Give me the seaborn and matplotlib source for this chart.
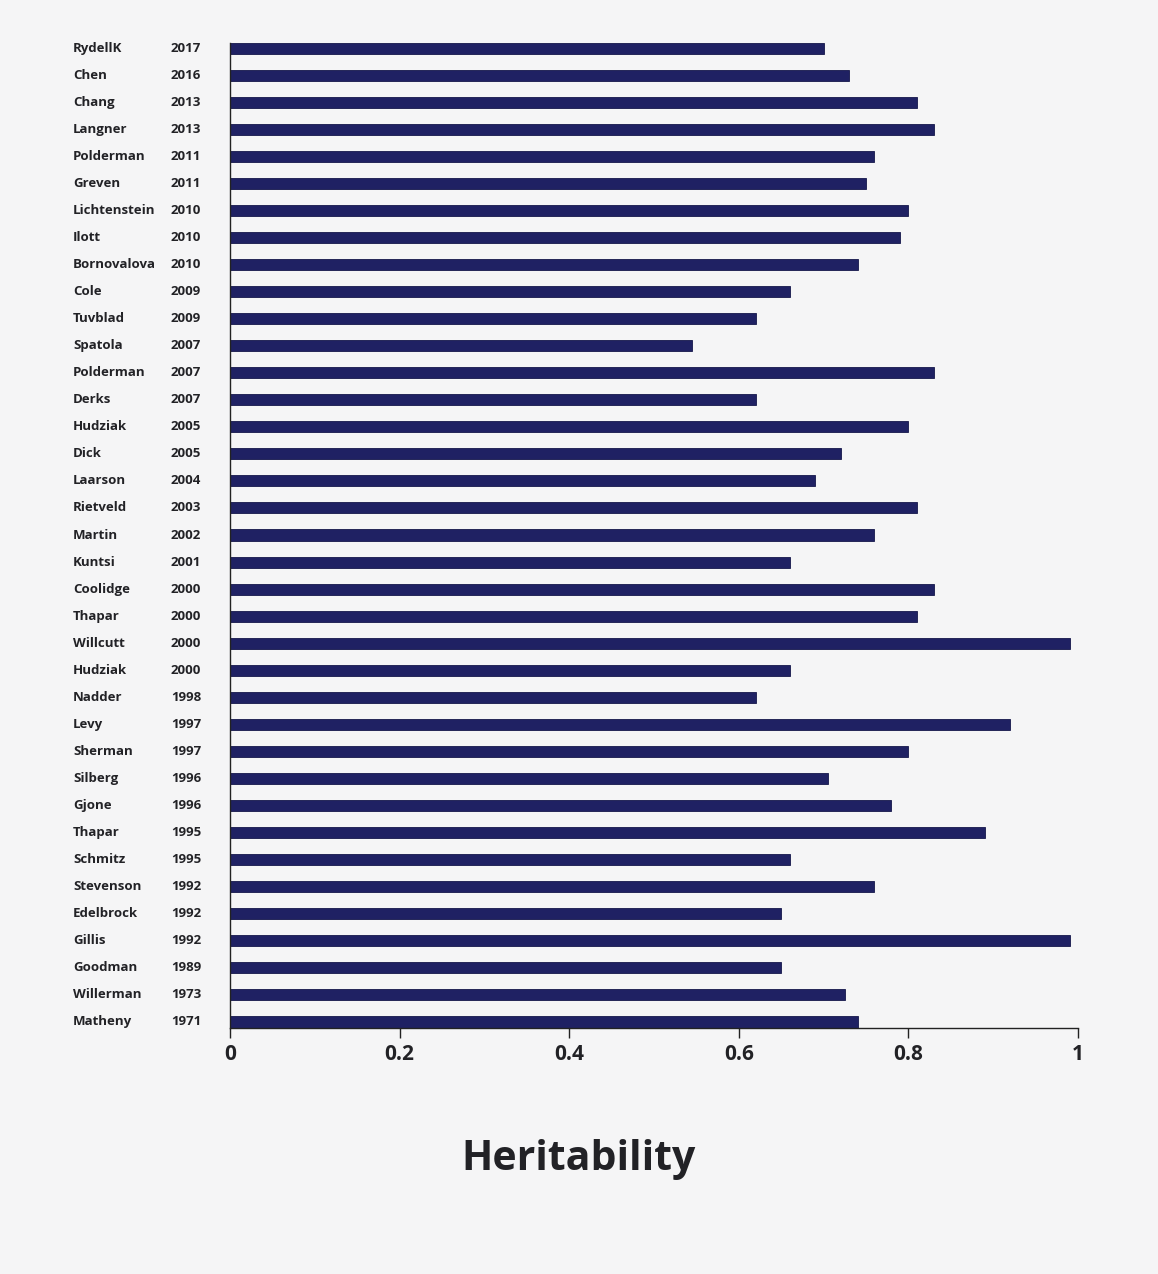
import matplotlib
matplotlib.use("Agg")
import matplotlib.pyplot as plt
import seaborn as sns
import pandas as pd

names = ["RydellK", "Chen", "Chang", "Langner", "Polderman", "Greven", "Lichtenstein",
         "Ilott", "Bornovalova", "Cole", "Tuvblad", "Spatola", "Polderman", "Derks",
         "Hudziak", "Dick", "Laarson", "Rietveld", "Martin", "Kuntsi", "Coolidge",
         "Thapar", "Willcutt", "Hudziak", "Nadder", "Levy", "Sherman", "Silberg",
         "Gjone", "Thapar", "Schmitz", "Stevenson", "Edelbrock", "Gillis", "Goodman",
         "Willerman", "Matheny"]
years = ["2017", "2016", "2013", "2013", "2011", "2011", "2010", "2010", "2010", "2009",
         "2009", "2007", "2007", "2007", "2005", "2005", "2004", "2003", "2002", "2001",
         "2000", "2000", "2000", "2000", "1998", "1997", "1997", "1996", "1996", "1995",
         "1995", "1992", "1992", "1992", "1989", "1973", "1971"]
heritability = [0.70, 0.73, 0.81, 0.83, 0.76, 0.75, 0.80, 0.79, 0.74, 0.66,
                0.62, 0.545, 0.83, 0.62, 0.80, 0.72, 0.69, 0.81, 0.76, 0.66,
                0.83, 0.81, 0.99, 0.66, 0.62, 0.92, 0.80, 0.705, 0.78, 0.89,
                0.66, 0.76, 0.65, 0.99, 0.65, 0.725, 0.74]
xticks = [0, 0.2, 0.4, 0.6, 0.8, 1]
xtick_labels = ["0", "0.2", "0.4", "0.6", "0.8", "1"]

BG = "#f5f5f6"
BAR = "#1f2163"
TXT = "#222226"

sns.set_theme(style="white")
plt.rcParams["font.family"] = ["Open Sans", "DejaVu Sans"]

df = pd.DataFrame({"study": [f"{n} {y}" for n, y in zip(names, years)],
                   "name": names, "year": years, "h": heritability})

fig = plt.figure(figsize=(11.58, 12.74), dpi=100, facecolor=BG)
ax = fig.add_axes([230 / 1158, 1 - 1027.5 / 1274, 848 / 1158, 985 / 1274])
ax.set_facecolor(BG)

bh = 0.41
sns.barplot(data=df, x="h", y="study", orient="h", color=BAR, width=bh,
            saturation=1, edgecolor="#15174a", linewidth=0.6, ax=ax)

n = len(df)
ax.set_ylim(n - 1 + bh / 2, -bh / 2)
ax.set_xlim(0, 1)
ax.set_yticks([])
ax.set_ylabel("")
ax.set_xlabel("")
ax.set_xticks(xticks)
ax.set_xticklabels(xtick_labels, fontsize=15, fontweight="bold", color=TXT)
ax.tick_params(axis="x", bottom=True, direction="out", length=7, width=1,
               color="#222", pad=5)

for s in ["top", "right"]:
    ax.spines[s].set_visible(False)
for s in ["left", "bottom"]:
    ax.spines[s].set_visible(True)
    ax.spines[s].set_color("#222")
    ax.spines[s].set_linewidth(1)

tr = ax.get_yaxis_transform()
for i, (nm, yr) in enumerate(zip(names, years)):
    ax.text(-157 / 848, i, nm, transform=tr, ha="left", va="center",
            fontsize=9.5, fontweight="bold", color=TXT)
    ax.text(-29 / 848, i, yr, transform=tr, ha="right", va="center",
            fontsize=9.5, fontweight="bold", color=TXT)

fig.text(0.5, 1 - 1159 / 1274, "Heritability", ha="center", va="center",
         fontsize=29.5, fontweight="bold", color=TXT)

fig.savefig("out.png", dpi=100, facecolor=BG)
